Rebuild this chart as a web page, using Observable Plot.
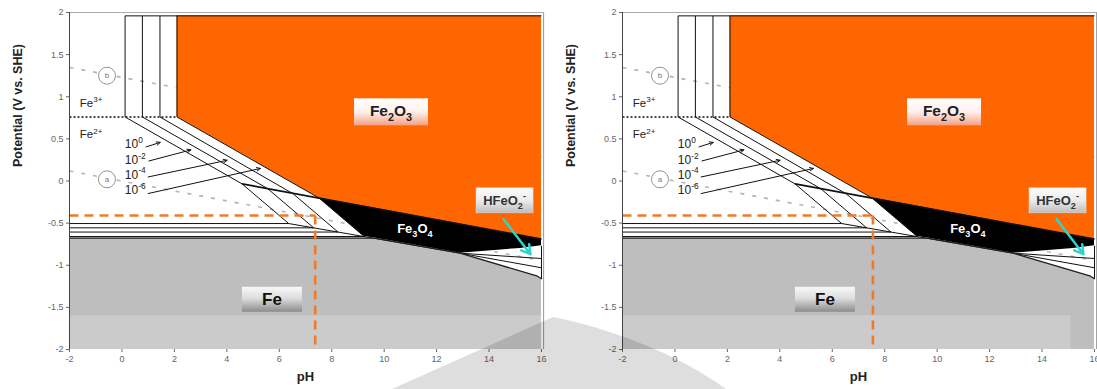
<!DOCTYPE html>
<html><head><meta charset="utf-8">
<script src="https://cdn.jsdelivr.net/npm/d3@7"></script>
<script src="https://cdn.jsdelivr.net/npm/@observablehq/plot@0.6"></script>
<style>
html,body{margin:0;padding:0;background:#fff;width:1097px;height:389px;overflow:hidden;font-family:"Liberation Sans",Arial,sans-serif}
#wrap{position:relative;width:1097px;height:389px;display:flex}
#p0{width:553px;flex:0 0 553px}
#p1{width:544px;flex:0 0 544px;overflow:hidden}
#wm{position:absolute;left:0;top:0;pointer-events:none}
</style></head><body>
<div id="wrap"><div id="p0"></div><div id="p1"></div>
<svg id="wm" width="1097" height="389"><path d="M392,389 L553,317 C605,327 675,352 726,389 Z" fill="#000" fill-opacity="0.13"/></svg>
</div>
<script>
// ---------- data ----------
const phTicks = [-2,0,2,4,6,8,10,12,14,16];
const eTicks = [-2,-1.5,-1,-0.5,0,0.5,1,1.5,2];

const concExp = ["0","-2","-4","-6"];
const fe3BoundPH = [0.12,0.78,1.45,2.10];
const fe3Fe2E = 0.76;
const diagramTopE = 1.96;
const kinkPH = [4.58,5.55,6.53,7.50];
const kinkE = [-0.034,-0.089,-0.152,-0.199];
const fe2FeE = [-0.505,-0.556,-0.606,-0.659];
const fe2FeEndPH = [6.36,7.31,8.24,9.24];

const fe2o3PH = [2.10,7.50,16];
const fe2o3LowE = [0.76,-0.199,-0.69];
const fe3o4PH = [7.50,9.22,12.9,15.2,16];
const fe3o4TopE = [-0.199,-0.298,-0.511,-0.644,-0.69];
const fe3o4BotE = [-0.199,-0.655,-0.857,-0.80,-0.77];
const feTopPH = [-2,9.64,12.9,15.85,16];
const feTopE = [-0.678,-0.678,-0.857,-1.13,-1.16];
const bandTopE = -1.6;
const bandEndPH = [16,15.1];
const fanStartPH = 12.9, fanStartE = -0.857;
const fanEndE = [-0.92,-1.03];
const rightEdgeE = [-0.77,-1.16];

const waterPH = [-2,16];
const waterAE = [0.118,-0.944];
const waterBE = [1.348,0.286];
const circlePH = -0.57;
const circleE = [0.02,1.25];
const circleTxt = ["a","b"];

const markerE = -0.41;
const markerPH = [7.37,7.55];

const concLabelPH = 0.13;
const concLabelE = [0.435,0.246,0.071,-0.111];
const arrowStartPH = [0.92,1.03,1.0,1.0];
const arrowStartE = [0.405,0.238,0.048,-0.149];
const arrowEndPH = [1.46,2.63,4.01,5.28];
const arrowEndE = [0.458,0.369,0.246,0.149];

const ionLabelPH = -1.59;
const ionLabelE = [0.917,0.548];
const ionCharge = ["3+","2+"];

const fe2o3Label = {ph:10.28, e:0.815};
const feLabel = {ph:5.74, e:-1.41};
const hfeo2Label = {ph:14.61, e:-0.235};
const fe3o4Label = {ph:11.19, e:-0.575};
const cyanFrom = [14.55,-0.452], cyanTo = [15.58,-0.869];

const FONT = "Liberation Sans, Arial, sans-serif";
const W = [553,544];

function seg(x1,y1,x2,y2){return {x1,y1,x2,y2};}

function rich(g, x, y, parts, size, o={}) {
  const t = g.append("text").attr("x",x).attr("y",y)
    .attr("text-anchor", o.anchor||"middle")
    .attr("font-size", size).attr("font-weight", o.weight||"normal")
    .attr("fill", o.fill||"#222").attr("font-family", FONT);
  let cur = 0;
  for (const [s,m] of parts) {
    const off = m==="sub" ? size*0.3 : m==="sup" ? -size*0.42 : 0;
    t.append("tspan").attr("dy", off-cur).attr("font-size", m ? size*0.7 : size).text(s);
    cur = off;
  }
  return t;
}

function panel(k) {
  const black = [];
  black.push(seg(fe3BoundPH[0], diagramTopE, 16, diagramTopE));
  for (let i=0;i<4;i++){
    black.push(seg(fe3BoundPH[i], fe3Fe2E, fe3BoundPH[i], diagramTopE));
    black.push(seg(fe3BoundPH[i], fe3Fe2E, kinkPH[i], kinkE[i]));
    black.push(seg(kinkPH[i], kinkE[i], fe2FeEndPH[i], fe2FeE[i]));
    black.push(seg(-2, fe2FeE[i], fe2FeEndPH[i], fe2FeE[i]));
  }
  const thick = [seg(kinkPH[0], kinkE[0], 16, fe2o3LowE[2])];
  black.push(seg(fe2FeEndPH[0], fe2FeE[0], fanStartPH, fanStartE));
  for (const e of fanEndE) black.push(seg(fanStartPH, fanStartE, 16, e));
  black.push(seg(16, rightEdgeE[0], 16, rightEdgeE[1]));

  const orange = fe2o3PH.map((x,i)=>({x, lo:fe2o3LowE[i], hi:diagramTopE}));
  const fe3o4 = fe3o4PH.map((x,i)=>({x, lo:fe3o4BotE[i], hi:fe3o4TopE[i]}));
  const fe = feTopPH.map((x,i)=>({x, lo:-2, hi:feTopE[i]}));
  const band = [{x:-2, lo:-2, hi:bandTopE},{x:bandEndPH[k], lo:-2, hi:bandTopE}];
  const water = [
    seg(waterPH[0], waterAE[0], waterPH[1], waterAE[1]),
    seg(waterPH[0], waterBE[0], waterPH[1], waterBE[1])];
  const circles = circleE.map((e,i)=>({x:circlePH, y:e, t:circleTxt[i]}));
  const arrows = arrowStartPH.map((x,i)=>seg(x, arrowStartE[i], arrowEndPH[i], arrowEndE[i]));
  const feTopLine = feTopPH.map((x,i)=>({x, y:feTopE[i]}));

  const plot = Plot.plot({
    width: W[k], height: 389,
    marginLeft: 69, marginRight: W[k]-541, marginTop: 12, marginBottom: 40,
    style: {fontFamily: FONT, fontSize: "9px", color: "#666", background: "#fff", overflow: "visible"},
    x: {domain: [-2,16], ticks: phTicks, tickFormat: d=>String(d), tickSize: 3, tickPadding: 3, label: null},
    y: {domain: [-2,2], ticks: eTicks, tickFormat: d=>String(d), tickSize: 3, tickPadding: 3, label: null},
    marks: [
      Plot.link(water, {x1:"x1", y1:"y1", x2:"x2", y2:"y2", stroke:"#b4b4b4", strokeWidth:1.6, strokeDasharray:"4,8"}),
      Plot.dot(circles, {x:"x", y:"y", r:8.5, fill:"#fff", stroke:"#888", strokeWidth:0.9}),
      Plot.text(circles, {x:"x", y:"y", text:"t", fontSize:8, fill:"#777"}),
      Plot.area(orange, {x1:"x", y1:"lo", y2:"hi", fill:"#ff6600"}),
      Plot.area(fe3o4, {x1:"x", y1:"lo", y2:"hi", fill:"#000"}),
      Plot.area(fe, {x1:"x", y1:"lo", y2:"hi", fill:"#bebebe"}),
      Plot.area(band, {x1:"x", y1:"lo", y2:"hi", fill:"#cbcbcb"}),
      Plot.link(black, {x1:"x1", y1:"y1", x2:"x2", y2:"y2", stroke:"#111", strokeWidth:1}),
      Plot.link(thick, {x1:"x1", y1:"y1", x2:"x2", y2:"y2", stroke:"#111", strokeWidth:1.7}),
      Plot.line(feTopLine, {x:"x", y:"y", stroke:"#222", strokeWidth:1.3}),
      Plot.link([seg(-2, fe3Fe2E, fe3BoundPH[3], fe3Fe2E)], {x1:"x1", y1:"y1", x2:"x2", y2:"y2", stroke:"#111", strokeWidth:1.5, strokeDasharray:"2,2"}),
      Plot.link([seg(-2, markerE, markerPH[k], markerE), seg(markerPH[k], markerE, markerPH[k], -2)],
        {x1:"x1", y1:"y1", x2:"x2", y2:"y2", stroke:"#f07a28", strokeWidth:2.6, strokeDasharray:"9,6"}),
      Plot.arrow(arrows, {x1:"x1", y1:"y1", x2:"x2", y2:"y2", stroke:"#111", strokeWidth:1, headLength:6, headAngle:50}),
      Plot.arrow([seg(cyanFrom[0], cyanFrom[1], cyanTo[0], cyanTo[1])], {x1:"x1", y1:"y1", x2:"x2", y2:"y2", stroke:"#2ed3cf", strokeWidth:2.5, headLength:6, headAngle:60}),
      Plot.ruleY([2], {x1:-2, x2:16.08, stroke:"#aaa", strokeWidth:1}),
      Plot.ruleX([16.08], {y1:-2, y2:2, stroke:"#999", strokeWidth:1}),
      Plot.ruleX([-2], {y1:-2, y2:2, stroke:"#444", strokeWidth:1}),
      Plot.text([0], {frameAnchor:"bottom", dy:31, text:()=>"pH", fontWeight:"bold", fontSize:13, fill:"#222"}),
      Plot.text([0], {frameAnchor:"left", dx:-52, dy:-14, rotate:-90, text:()=>"Potential (V vs. SHE)", fontWeight:"bold", fontSize:12.5, fill:"#222"})
    ]
  });

  const sx = plot.scale("x"), sy = plot.scale("y");
  const X = v=>sx.apply(v), Y = v=>sy.apply(v);
  const svg = d3.select(plot);
  const defs = svg.append("defs");
  function grad(id, stops){
    const g = defs.append("linearGradient").attr("id", id).attr("x1",0).attr("y1",0).attr("x2",0).attr("y2",1);
    for (const [o,c] of stops) g.append("stop").attr("offset", o).attr("stop-color", c);
  }
  grad("gO"+k, [[0,"#ffffff"],[0.5,"#fff1ec"],[1,"#f5a083"]]);
  grad("gF"+k, [[0,"#f8f8f8"],[0.45,"#dedede"],[1,"#8c8c8c"]]);
  grad("gH"+k, [[0,"#fbfbfb"],[0.5,"#ececec"],[1,"#bdbdbd"]]);
  const g = svg.append("g");
  function box(lab, w, h, id, stroke){
    g.append("rect").attr("x", X(lab.ph)-w/2).attr("y", Y(lab.e)-h/2).attr("width", w).attr("height", h)
      .attr("fill", `url(#${id})`).attr("stroke", stroke||"none").attr("stroke-width", 0.6);
  }
  box(fe2o3Label, 74, 27, "gO"+k);
  box(feLabel, 60, 25, "gF"+k);
  box(hfeo2Label, 57, 25, "gH"+k, "#dcdcdc");

  rich(g, X(fe2o3Label.ph), Y(fe2o3Label.e)+4.5, [["Fe"],["2","sub"],["O"],["3","sub"]], 15.5, {weight:"bold", fill:"#222"});
  rich(g, X(feLabel.ph), Y(feLabel.e)+6, [["Fe"]], 17, {weight:"bold", fill:"#111"});
  rich(g, X(hfeo2Label.ph), Y(hfeo2Label.e)+4.5, [["HFeO"],["2","sub"],["-","sup"]], 13, {weight:"bold", fill:"#333"});
  rich(g, X(fe3o4Label.ph), Y(fe3o4Label.e)+4.5, [["Fe"],["3","sub"],["O"],["4","sub"]], 13, {weight:"bold", fill:"#fff"});
  ionLabelE.forEach((e,i)=>rich(g, X(ionLabelPH), Y(e)+4, [["Fe"],[ionCharge[i],"sup"]], 11.5, {anchor:"start", fill:"#222"}));
  concLabelE.forEach((e,i)=>rich(g, X(concLabelPH), Y(e)+4, [["10"],[concExp[i],"sup"]], 12, {anchor:"start", fill:"#222"}));
  return plot;
}

document.getElementById("p0").appendChild(panel(0));
document.getElementById("p1").appendChild(panel(1));
</script>
</body></html>
